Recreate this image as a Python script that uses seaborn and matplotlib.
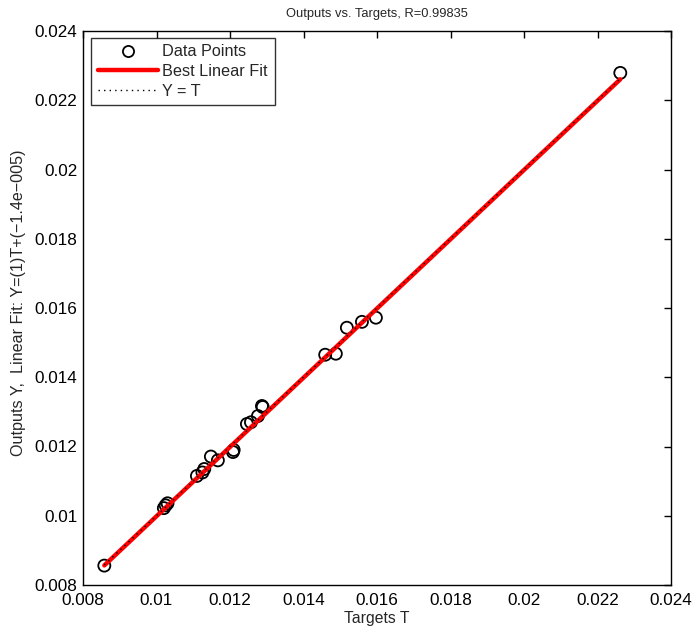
import numpy as np
import pandas as pd
import matplotlib
matplotlib.use("Agg")
import matplotlib.pyplot as plt
import seaborn as sns
from matplotlib.lines import Line2D

targets = [0.00858, 0.01020, 0.01025, 0.01030, 0.01110, 0.01125, 0.01130,
           0.01148, 0.01167, 0.01208, 0.01210, 0.01246, 0.01257, 0.01276,
           0.01287, 0.01289, 0.01459, 0.01488, 0.01518, 0.01559, 0.01597,
           0.02262]
outputs = [0.00856, 0.01022, 0.01030, 0.01036, 0.01115, 0.01125, 0.01135,
           0.01171, 0.01160, 0.01184, 0.01190, 0.01265, 0.01270, 0.01288,
           0.01317, 0.01314, 0.01465, 0.01468, 0.01543, 0.01560, 0.01572,
           0.02279]
slope = 1.0
intercept = -1.4e-5
r_value = 0.99835
ticks = [0.008, 0.01, 0.012, 0.014, 0.016, 0.018, 0.02, 0.022, 0.024]
tick_labels = ["0.008", "0.01", "0.012", "0.014", "0.016", "0.018", "0.02", "0.022", "0.024"]

sns.set_style("white")
plt.rcParams['font.family'] = ['Liberation Sans', 'DejaVu Sans']

df = pd.DataFrame({"T": targets, "Y": outputs})
tmin, tmax = min(targets), max(targets)
line_df = pd.DataFrame({"T": [tmin, tmax],
                        "fit": [slope * tmin + intercept, slope * tmax + intercept],
                        "ident": [tmin, tmax]})

fig = plt.figure(figsize=(6.94, 6.31), dpi=100)
ax = fig.add_axes([83/694, 1 - 585/631, (671-83)/694, (585-31)/631])

sns.scatterplot(data=df, x="T", y="Y", ax=ax, marker="o", s=75,
                facecolor="none", edgecolor="black", linewidth=1.3, zorder=2)
sns.lineplot(data=line_df, x="T", y="fit", ax=ax, color="#ff0000", linewidth=3.2, zorder=3)
sns.lineplot(data=line_df, x="T", y="ident", ax=ax, color="black", linewidth=1.0,
             linestyle=(0, (1, 3)), zorder=4)

ax.set_xlim(0.008, 0.024)
ax.set_ylim(0.008, 0.024)
ax.set_xticks(ticks)
ax.set_xticklabels(tick_labels)
ax.set_yticks(ticks)
ax.set_yticklabels(tick_labels)
ax.tick_params(direction="in", top=True, right=True, length=5, width=1,
               labelsize=12.3, colors="black")
ax.tick_params(axis="x", pad=6)
ax.tick_params(axis="y", pad=4)
for sp in ax.spines.values():
    sp.set_color("black")
    sp.set_linewidth(1.0)

ax.set_title(f"Outputs vs. Targets, R={r_value}", fontsize=9.3, pad=10)
ax.set_xlabel("Targets T", fontsize=11.3, labelpad=2)
ax.set_ylabel("Outputs Y,  Linear Fit: Y=(1)T+(\u22121.4e\u2212005)", fontsize=11.6, labelpad=6)
ax.yaxis.label.set_y(0.51)

handles = [
    Line2D([], [], marker="o", linestyle="none", markerfacecolor="none",
           markeredgecolor="black", markersize=8, markeredgewidth=1.3),
    Line2D([], [], color="#ff0000", linewidth=3.2),
    Line2D([], [], color="black", linewidth=1.0, linestyle=(0, (1, 3))),
]
leg = ax.legend(handles, ["Data Points", "Best Linear Fit", "Y = T"],
                loc="upper left", bbox_to_anchor=(8/588, 1 - 7/554), fontsize=11.7,
                frameon=True, fancybox=False, edgecolor="black",
                borderpad=0.4, labelspacing=0.28, handlelength=3.7,
                handletextpad=0.3, borderaxespad=0)
leg.get_frame().set_linewidth(1.0)

fig.savefig("out.png", dpi=100)
